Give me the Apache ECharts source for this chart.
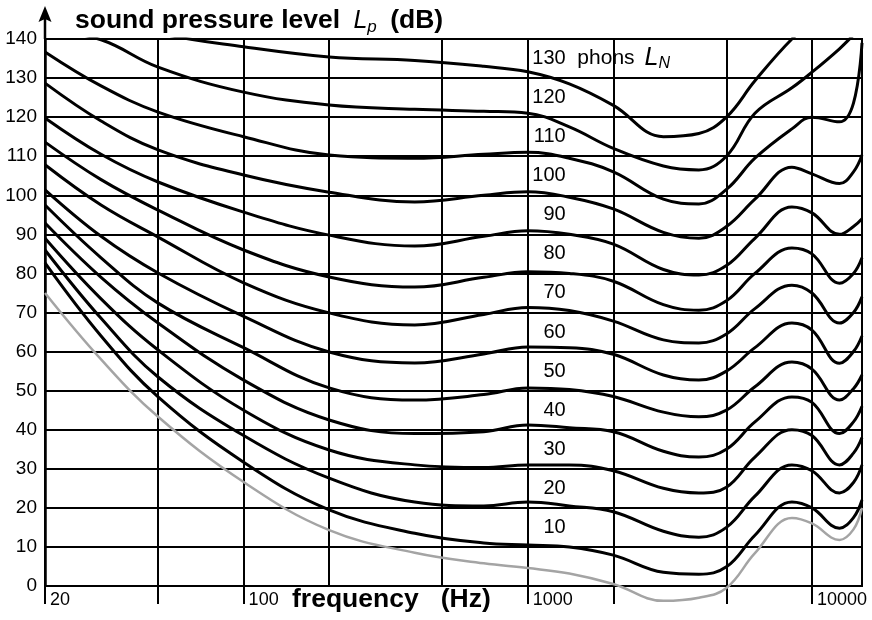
<!DOCTYPE html>
<html>
<head>
<meta charset="utf-8">
<script src="https://cdn.jsdelivr.net/npm/echarts@6.0.0/dist/echarts.min.js"></script>
<style>
  html, body { margin: 0; padding: 0; background: #fff; }
  #chart { width: 872px; height: 620px; }
</style>
</head>
<body>
<div id="chart"></div>
<script>
// Frequencies (Hz) at which every contour is sampled
const frequencies = [20, 31.5, 50, 100, 200, 400, 700, 1000, 1400, 2000, 3000, 4000, 5000, 6300, 8500, 10000, 12500, 14000, 15000];

// Threshold of hearing (dB)
const hearingThreshold = [75, 58, 43.3, 26.6, 14.3, 8.5, 5.8, 4.6, 3.2, 0.5, -3.8, -3, -0.5, 8.4, 17.4, 16, 11.8, 14.5, 20];

// Equal-loudness contours, sound pressure level (dB) per frequency
const phon10  = [82.7, 64, 48.4, 31.7, 19.5, 13.5, 11, 10.5, 10, 7.9, 3.5, 3, 4.9, 13, 21.5, 20, 14.8, 17.5, 22];
const phon20  = [86, 68.5, 53.5, 38.5, 27.6, 21.5, 20.5, 21.5, 20.5, 19, 14, 12.5, 15, 23, 31, 29.5, 23.8, 26.5, 31];
const phon30  = [89, 73.5, 60.4, 45, 34.8, 31, 30.3, 31, 31, 29.5, 25, 23.8, 25.3, 33, 40, 38.5, 31, 34, 38];
const phon40  = [92.9, 79, 67.3, 52.7, 42.5, 39, 39.5, 41.2, 40.5, 39.5, 34.5, 33, 35, 42, 48.4, 47, 39, 42, 46];
const phon50  = [97.5, 84, 72.4, 61, 50.7, 47.6, 49, 50.7, 50.3, 48.5, 44.5, 43.3, 45, 51, 57.3, 55.5, 47.6, 50.5, 54];
const phon60  = [101.4, 89.5, 80.1, 69, 59.9, 57.1, 59.4, 61.2, 61, 59.3, 54, 52.7, 55, 61, 67.3, 65.5, 57, 60, 64];
const phon70  = [107.8, 97.5, 89.3, 77.6, 69.9, 66.8, 69.5, 71.3, 70.5, 67.8, 63, 62.2, 64.5, 71, 77, 75, 67.3, 70, 74];
const phon80  = [113.6, 104, 96.2, 86, 79.1, 76.5, 79, 80.4, 80, 78, 72, 70.6, 73, 80, 86.5, 85, 77.5, 80, 84];
const phon90  = [119.8, 110.5, 103.4, 95.7, 89.8, 87, 89.5, 90.9, 90, 87.5, 81, 79.6, 82, 89, 97, 95.5, 90, 92, 94];
const phon100 = [128.7, 119, 111.6, 105.2, 100.8, 98.3, 100, 100.9, 99.5, 96.5, 90.5, 89, 92, 99, 107.2, 105.5, 103, 106, 110.3];
const phon110 = [136.7, 128, 121.3, 115, 110.3, 109.5, 110.5, 111, 109.5, 106, 99, 97.8, 101.5, 109.5, 117, 120, 118.8, 123.6, 139];
const phon120 = [142.5, 139.8, 132.8, 126.4, 123.1, 122, 121.5, 121, 117.5, 112, 107.5, 106.5, 110, 121, 127.5, 131.5, 137.5, 141, 143];
const phon130 = [152, 146, 141.5, 138, 135.4, 134.5, 133, 131.6, 128.5, 123, 115, 115.8, 120, 129.3, 140, 144, 149, 152, 154];

const contourLevels = [10, 20, 30, 40, 50, 60, 70, 80, 90, 100, 110, 120, 130];
const contourValues = [phon10, phon20, phon30, phon40, phon50, phon60, phon70, phon80, phon90, phon100, phon110, phon120, phon130];

// Axis layout values
const levelMin = 0, levelMax = 140, levelStep = 10;
const freqMin = 20, freqMax = 15000;
const freqGridLong = [20, 50, 100, 1000, 2000, 5000, 10000];  // grid lines that run below the axis
const freqGridShort = [200, 500];                               // grid lines that stop at the axis
const freqLabels = [20, 100, 1000, 10000];

// Contour names are written just right of 1 kHz, a little above each curve
const contourLabelFreq = 1360;
const contourLabelLift = 5;
const unitLabelFreq = 1494;

const FONT = '"Liberation Sans", Arial, Helvetica, sans-serif';

const chart = echarts.init(document.getElementById('chart'), null, { renderer: 'canvas' });

const series = contourLevels.map((lvl, k) => ({
  type: 'line',
  name: lvl + ' phon',
  data: frequencies.map((f, i) => [f, contourValues[k][i]]),
  smooth: 0.4,
  showSymbol: false,
  symbol: 'none',
  silent: true,
  clip: true,
  z: 4,
  lineStyle: { color: '#000', width: 3 }
}));

series.push({
  type: 'line',
  name: 'threshold',
  data: frequencies.map((f, i) => [f, hearingThreshold[i]]),
  smooth: 0.4,
  showSymbol: false,
  symbol: 'none',
  silent: true,
  clip: false,
  z: 3,
  lineStyle: { color: '#a4a4a4', width: 2.5 }
});

series.push({
  type: 'scatter',
  silent: true,
  symbolSize: 0,
  z: 5,
  itemStyle: { opacity: 1 },
  data: contourLevels.map(l => ({ value: [contourLabelFreq, l + contourLabelLift], name: String(l) })),
  label: {
    show: true,
    position: 'left',
    distance: 0,
    align: 'right',
    verticalAlign: 'middle',
    formatter: '{b}',
    fontFamily: FONT,
    fontSize: 20,
    color: '#000'
  }
});

series.push({
  type: 'scatter',
  silent: true,
  symbolSize: 0,
  z: 5,
  itemStyle: { opacity: 1 },
  data: [{ value: [unitLabelFreq, contourLevels[contourLevels.length - 1] + contourLabelLift], name: 'phons' }],
  label: {
    show: true,
    position: 'right',
    distance: 0,
    align: 'left',
    verticalAlign: 'middle',
    formatter: '{t|phons}   {i|L}{s|N}',
    rich: {
      t: { fontFamily: FONT, fontSize: 21, color: '#000', lineHeight: 26, verticalAlign: 'middle' },
      i: { fontFamily: FONT, fontSize: 25, fontStyle: 'italic', color: '#000', lineHeight: 26, verticalAlign: 'middle' },
      s: { fontFamily: FONT, fontSize: 16, fontStyle: 'italic', color: '#000', lineHeight: 15, verticalAlign: 'bottom' }
    }
  }
});

const gridLineStyle = { color: '#000', width: 2 };

chart.setOption({
  animation: false,
  backgroundColor: '#fff',
  grid: {
    left: 45, right: 10, top: 39, bottom: 34,
    show: true, borderColor: '#000', borderWidth: 2, backgroundColor: 'transparent'
  },
  xAxis: [
    {
      type: 'log', logBase: 10, min: freqMin, max: freqMax,
      axisLine: { show: true, onZero: false, lineStyle: { color: '#000', width: 2 } },
      axisTick: { show: true, customValues: freqGridLong, length: 18, inside: false, lineStyle: { color: '#000', width: 2 } },
      axisLabel: {
        show: true, customValues: freqLabels, align: 'left', verticalAlign: 'middle',
        margin: 14, padding: [0, 0, 0, 5], fontFamily: FONT, fontSize: 18, color: '#000',
        formatter: v => String(v)
      },
      splitLine: { show: true, lineStyle: gridLineStyle }
    },
    {
      type: 'log', logBase: 10, min: freqMin, max: freqMax, position: 'bottom',
      axisLine: { show: false },
      axisTick: { show: false, customValues: freqGridShort },
      axisLabel: { show: false },
      splitLine: { show: true, lineStyle: gridLineStyle }
    }
  ],
  yAxis: {
    type: 'value', min: levelMin, max: levelMax, interval: levelStep,
    axisLine: { show: true, lineStyle: { color: '#000', width: 2.5 } },
    axisTick: { show: false },
    axisLabel: { fontFamily: FONT, fontSize: 19, color: '#000', margin: 8 },
    splitLine: { show: true, lineStyle: gridLineStyle }
  },
  series: series
});

// Arrow on top of the level axis, plus the axis titles
const origin = chart.convertToPixel({ xAxisIndex: 0, yAxisIndex: 0 }, [freqMin, levelMax]);
const ax = origin[0], ay = origin[1];
chart.setOption({
  graphic: [
    { type: 'line', shape: { x1: ax, y1: ay, x2: ax, y2: ay - 20 }, style: { stroke: '#000', lineWidth: 2.5 }, z: 10 },
    { type: 'polygon', shape: { points: [[ax, ay - 33], [ax - 6.5, ay - 17], [ax, ay - 20], [ax + 6.5, ay - 17]] }, style: { fill: '#000' }, z: 10 },
    {
      type: 'text', x: 75, y: 21, z: 10,
      style: {
        text: '{b|sound pressure level}    {i|L}{s|p}    {b|(dB)}',
        verticalAlign: 'middle',
        rich: {
          b: { fontFamily: FONT, fontWeight: 'bold', fontSize: 26.5, lineHeight: 30, fill: '#000', verticalAlign: 'middle' },
          i: { fontFamily: FONT, fontStyle: 'italic', fontSize: 25, lineHeight: 30, fill: '#000', verticalAlign: 'middle' },
          s: { fontFamily: FONT, fontStyle: 'italic', fontSize: 17, lineHeight: 17, fill: '#000', verticalAlign: 'bottom' }
        }
      }
    },
    {
      type: 'text', x: 292, y: 600, z: 10,
      style: { text: 'frequency   (Hz)', fontFamily: FONT, fontWeight: 'bold', fontSize: 26.5, fill: '#000', verticalAlign: 'middle' }
    }
  ]
});
</script>
</body>
</html>
